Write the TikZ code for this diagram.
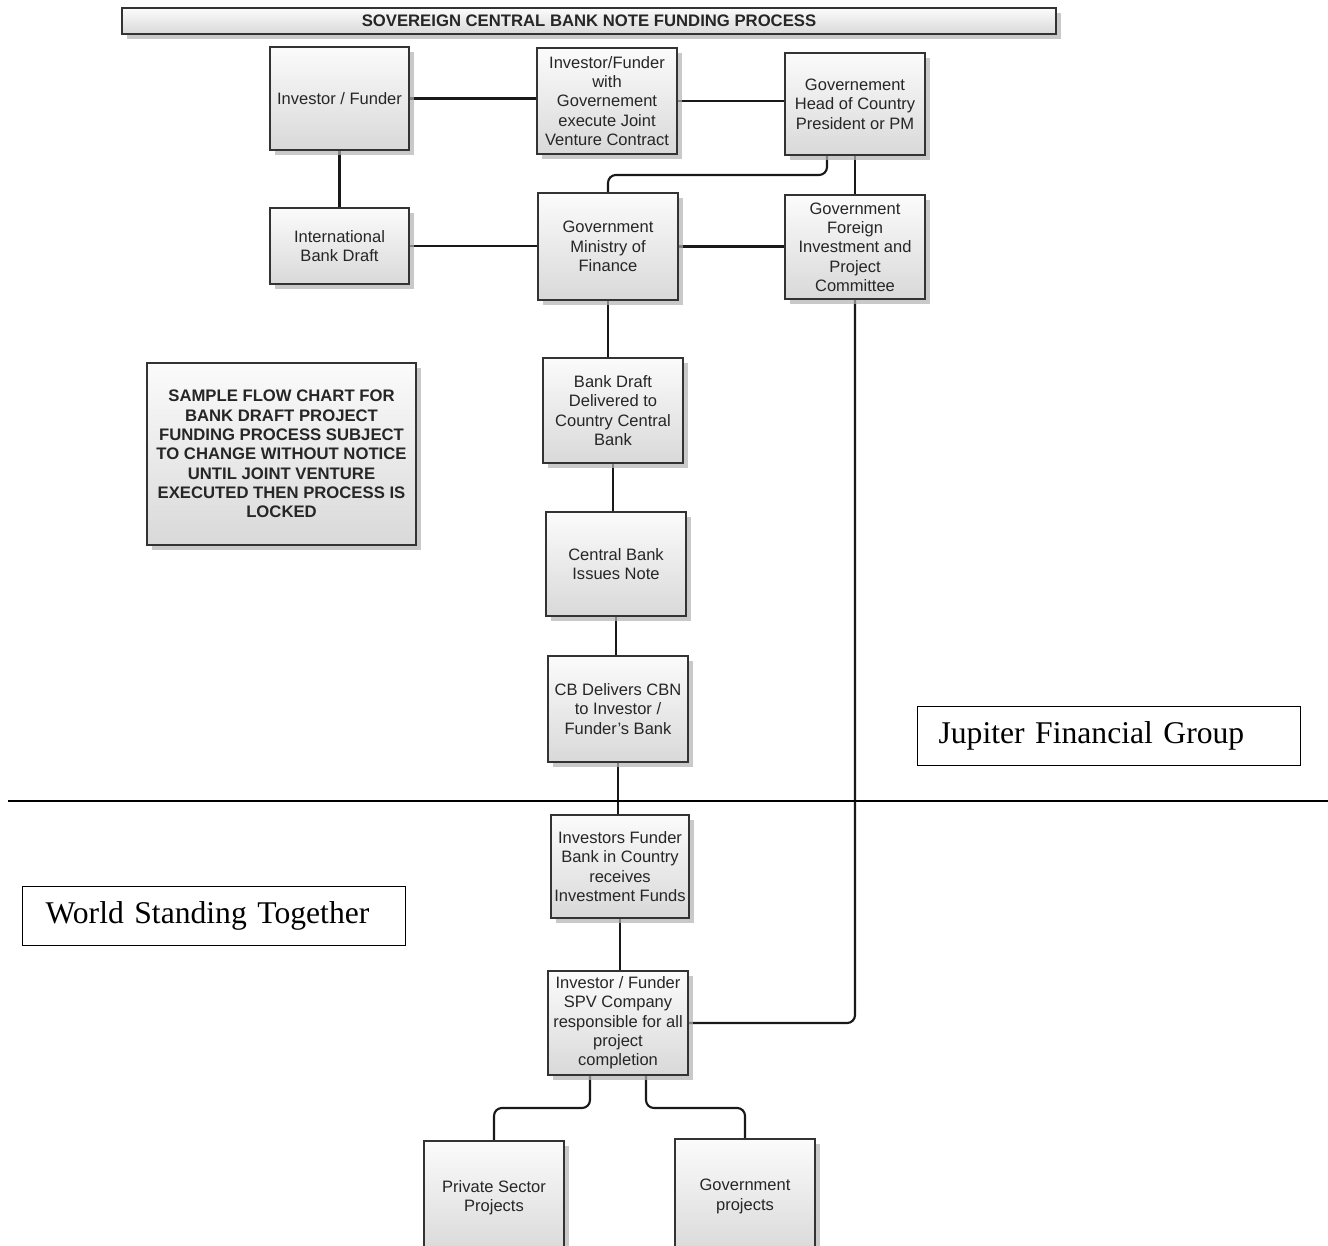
\documentclass[tikz,border=0pt]{standalone}
\usepackage{fontspec}
\setmainfont{Liberation Sans}
\newfontfamily\serifJ{Liberation Serif}
\usetikzlibrary{shadows,backgrounds}
\tikzset{
  box/.style={draw=black!80, line width=1.1pt, top color=gray!3, bottom color=gray!30,
    drop shadow={shadow xshift=2.8pt, shadow yshift=-2.8pt, fill=gray!60, opacity=0.7},
    align=center, font=\fontsize{9.4}{11}\selectfont, text=black!85, inner sep=0pt},
  boldbox/.style={box, font=\fontsize{9.5}{11}\selectfont\bfseries},
  conn/.style={line width=1.2pt, draw=black!90, rounded corners=4.5pt},
  plainbox/.style={draw=black, line width=0.7pt, anchor=north west, align=left,
    font=\serifJ\fontsize{18}{21}\selectfont, minimum height=1.17cm},
}
% \bx[style]{name}{x1}{y1}{x2}{y2}{text}
\newcommand\bx[7][box]{%
  \node[#1, minimum width={(#5-#3)*0.02cm}, minimum height={(#6-#4)*0.02cm}]
    (#2) at ({(#3+#5)/2},{(#4+#6)/2}) {#7};}
\begin{document}
\begin{tikzpicture}[x=0.02cm,y=-0.02cm]
\clip (0,0) rectangle (1328,1245);
\useasboundingbox (0,0) rectangle (1328,1245);

\bx[boldbox]{title}{122}{8}{1056}{34}{SOVEREIGN CENTRAL BANK NOTE FUNDING PROCESS}

\bx{inv}{270}{47}{409}{150}{Investor / Funder}
\bx{jv}{537}{48}{677}{154}{Investor/Funder\\with\\Governement\\execute Joint\\Venture Contract}
\bx{head}{785}{53}{925}{155}{Governement\\Head of Country\\President or PM}
\bx{ibd}{270}{208}{409}{284}{International\\Bank Draft}
\bx{mof}{538}{193}{678}{300}{Government\\Ministry of\\Finance}
\bx{fi}{785}{195}{925}{299}{Government\\Foreign\\Investment and\\Project\\Committee}
\bx{bd}{543}{358}{683}{463}{Bank Draft\\Delivered to\\Country Central\\Bank}
\bx{cb}{546}{512}{686}{616}{Central Bank\\Issues Note}
\bx{cbd}{548}{656}{688}{762}{CB Delivers CBN\\to Investor /\\Funder's Bank}
\bx{ifb}{551}{815}{689}{918}{Investors Funder\\Bank in Country\\receives\\Investment Funds}
\bx{spv}{548}{971}{688}{1075}{Investor / Funder\\SPV Company\\responsible for all\\project\\completion}
\bx{priv}{424}{1141}{564}{1254}{Private Sector\\Projects}
\bx{gov}{675}{1139}{815}{1254}{Government\\projects}
\bx[boldbox]{sample}{147}{363}{416}{545}{SAMPLE FLOW CHART FOR\\BANK DRAFT PROJECT\\FUNDING PROCESS SUBJECT\\TO CHANGE WITHOUT NOTICE\\UNTIL JOINT VENTURE\\EXECUTED THEN PROCESS IS\\LOCKED}

\node[plainbox, inner xsep=0.42cm, text width=6.82cm] (jup) at (917,706) {Jupiter Financial Group};
\node[plainbox, inner xsep=0.46cm, text width=6.74cm] (world) at (22,886) {World Standing Together};

\coordinate (hl) at (8,801);
\coordinate (hr) at (1328,801);
\draw[line width=0.9pt] (hl) -- (hr);

\begin{scope}[on background layer]
\draw[conn] (inv.east) -- (inv.east -| jv.west);
\draw[conn] (jv.east) -- (jv.east -| head.west);
\draw[conn] (inv.south) -- (inv.south |- ibd.north);
\draw[conn] (ibd.east) -- (ibd.east -| mof.west);
\draw[conn] (mof.east) -- (mof.east -| fi.west);
\draw[conn] (head.south) ++(-28,0) -- ++(0,19) -| (mof.north);
\draw[conn] (head.south) -- (fi.north);
\draw[conn] (fi.south) |- (spv.east);
\draw[conn] (mof.south) -- (mof.south |- bd.north);
\draw[conn] (bd.south) -- (bd.south |- cb.north);
\draw[conn] (cb.south) -- (cb.south |- cbd.north);
\draw[conn] (cbd.south) -- (cbd.south |- ifb.north);
\draw[conn] (ifb.south) -- (ifb.south |- spv.north);
\draw[conn] (spv.south) ++(-28,0) -- ++(0,32) -| (priv.north);
\draw[conn] (spv.south) ++(28,0) -- ++(0,32) -| (gov.north);
\end{scope}
\end{tikzpicture}
\end{document}
